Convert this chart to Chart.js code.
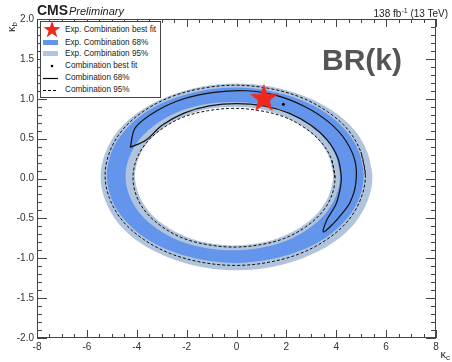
<!DOCTYPE html>
<html>
<head>
<meta charset="utf-8">
<script src="https://cdn.jsdelivr.net/npm/chart.js@4.4.1/dist/chart.umd.min.js"></script>
<style>
  body { margin: 0; background: #fff; font-family: "Liberation Sans", Arial, sans-serif; }
  #wrap { position: relative; width: 452px; height: 362px; overflow: hidden; }
  #wrap canvas { position: absolute; left: 0; top: 0; }
  .txt { position: absolute; white-space: nowrap; color: #222; line-height: 1; }
  #legend { position: absolute; left: 40px; top: 21px; width: 119px; height: 75px;
            border: 1px solid #444; background: #fff; }
  .lg { position: absolute; left: 65px; font-size: 8.2px; line-height: 10px; color: #222; white-space: nowrap; }
</style>
</head>
<body>
<div id="wrap">
  <canvas id="c" width="452" height="362"></canvas>
  <div class="txt" style="left:37px;top:3px;font-size:14px;font-weight:bold;">CMS</div>
  <div class="txt" style="left:69px;top:6px;font-size:11px;font-style:italic;">Preliminary</div>
  <div class="txt" style="right:4px;top:7px;font-size:10px;">138 fb<sup style="font-size:7px;vertical-align:4px;">-1</sup> (13 TeV)</div>
  <div class="txt" style="left:322px;top:45px;font-size:30px;font-weight:bold;color:#555;">BR(k)</div>
  <div class="txt" style="right:2px;top:349px;font-size:11px;">&kappa;<sub style="font-size:8px;vertical-align:-2px;">c</sub></div>
  <div class="txt" style="left:6px;top:32px;font-size:11px;transform:rotate(-90deg);transform-origin:left top;">&kappa;<sub style="font-size:8px;vertical-align:-2px;">b</sub></div>
  <div id="legend"></div>
  <svg style="position:absolute;left:0;top:0;" width="170" height="100">
    <polygon transform="translate(52,30)" fill="#f0281e"
      points="0,-9 2.1,-2.9 8.6,-2.8 3.4,1.1 5.3,7.3 0,3.6 -5.3,7.3 -3.4,1.1 -8.6,-2.8 -2.1,-2.9"/>
    <rect x="43" y="40" width="15" height="5" fill="#6495ed"/>
    <rect x="43" y="51" width="15" height="5" fill="#b0c4de"/>
    <circle cx="52" cy="66" r="1.3" fill="#000"/>
    <line x1="43" y1="78.5" x2="58" y2="78.5" stroke="#000" stroke-width="1.2"/>
    <line x1="43" y1="90.5" x2="58" y2="90.5" stroke="#000" stroke-width="1" stroke-dasharray="3,2"/>
  </svg>
  <div class="lg" style="top:25px;">Exp. Combination best fit</div>
  <div class="lg" style="top:37.5px;">Exp. Combination 68%</div>
  <div class="lg" style="top:49px;">Exp. Combination 95%</div>
  <div class="lg" style="top:61px;">Combination best fit</div>
  <div class="lg" style="top:73px;">Combination 68%</div>
  <div class="lg" style="top:85px;">Combination 95%</div>
</div>
<script>
// axis ticks
const xTicks = [-8, -6, -4, -2, 0, 2, 4, 6, 8];
const yTicks = [-2, -1.5, -1, -0.5, 0, 0.5, 1, 1.5, 2];

// best fit points (kappa_c, kappa_b)
const expBestFit = [1.1, 1.0];
const combBestFit = [1.88, 0.93];

// expected 95% band, outer and inner edge
const exp95Outer = [[5.45,0.02],[5.26,0.32],[4.72,0.61],[3.85,0.85],[2.73,1.03],[1.41,1.15],[0,1.19],[-1.41,1.15],[-2.73,1.03],[-3.85,0.85],[-4.72,0.61],[-5.26,0.32],[-5.45,0.02],[-5.26,-0.28],[-4.72,-0.57],[-3.85,-0.81],[-2.73,-0.99],[-1.41,-1.11],[0,-1.15],[1.41,-1.11],[2.73,-0.99],[3.85,-0.81],[4.72,-0.57],[5.26,-0.28]];
const exp95Inner = [[3.87,0.03],[3.73,0.25],[3.34,0.46],[2.71,0.64],[1.89,0.78],[0.93,0.87],[-0.10,0.90],[-1.13,0.87],[-2.09,0.78],[-2.91,0.64],[-3.54,0.46],[-3.93,0.25],[-4.07,0.03],[-3.93,-0.19],[-3.54,-0.40],[-2.91,-0.58],[-2.09,-0.72],[-1.13,-0.81],[-0.10,-0.84],[0.93,-0.81],[1.89,-0.72],[2.71,-0.58],[3.34,-0.40],[3.73,-0.19]];

// expected 68% band
const exp68Outer = [[5.10,0.04],[4.92,0.33],[4.41,0.59],[3.59,0.82],[2.53,0.99],[1.28,1.10],[-0.05,1.14],[-1.38,1.10],[-2.63,0.99],[-3.69,0.82],[-4.51,0.59],[-5.02,0.33],[-5.20,0.04],[-5.02,-0.25],[-4.51,-0.51],[-3.69,-0.74],[-2.63,-0.91],[-1.38,-1.02],[-0.05,-1.06],[1.28,-1.02],[2.53,-0.91],[3.59,-0.74],[4.41,-0.51],[4.92,-0.25]];
const exp68Inner = [[4.15,0.03],[4.00,0.27],[3.57,0.50],[2.89,0.69],[2.00,0.84],[0.96,0.93],[-0.15,0.96],[-1.26,0.93],[-2.30,0.84],[-3.19,0.69],[-3.87,0.50],[-4.30,0.27],[-4.45,0.03],[-4.30,-0.21],[-3.87,-0.44],[-3.19,-0.63],[-2.30,-0.78],[-1.26,-0.87],[-0.15,-0.90],[0.96,-0.87],[2.00,-0.78],[2.89,-0.63],[3.57,-0.44],[4.00,-0.21]];

// observed 95% contours (dashed)
const comb95Outer = [[5.17,0.04],[4.99,0.33],[4.47,0.61],[3.64,0.84],[2.56,1.02],[1.30,1.13],[-0.05,1.17],[-1.40,1.13],[-2.66,1.02],[-3.74,0.84],[-4.57,0.61],[-5.09,0.33],[-5.27,0.04],[-5.09,-0.25],[-4.57,-0.53],[-3.74,-0.76],[-2.66,-0.94],[-1.40,-1.05],[-0.05,-1.09],[1.30,-1.05],[2.56,-0.94],[3.64,-0.76],[4.47,-0.53],[4.99,-0.25]];
const comb95Inner = [[3.95,0.01],[3.81,0.24],[3.41,0.45],[2.76,0.63],[1.93,0.77],[0.95,0.85],[-0.10,0.88],[-1.15,0.85],[-2.13,0.77],[-2.96,0.63],[-3.61,0.45],[-4.01,0.24],[-4.15,0.01],[-4.01,-0.22],[-3.61,-0.43],[-2.96,-0.61],[-2.13,-0.75],[-1.15,-0.83],[-0.10,-0.86],[0.95,-0.83],[1.93,-0.75],[2.76,-0.61],[3.41,-0.43],[3.81,-0.22]];

// observed 68% contour (solid crescent, starts and ends at the left tip)
const comb68 = [[-4.26,0.39],[-4.05,0.64],[-3.19,0.85],[-2.11,1.00],[-0.90,1.08],[0.37,1.10],[1.62,1.04],[2.75,0.90],[3.69,0.71],[4.37,0.48],[4.76,0.21],[4.78,-0.07],[4.55,-0.30],[4.18,-0.46],[3.90,-0.56],[3.48,-0.67],[3.62,-0.52],[3.98,-0.33],[4.15,-0.14],[4.20,0.02],[4.06,0.26],[3.64,0.48],[2.97,0.67],[2.10,0.82],[1.09,0.91],[0,0.94],[-1.09,0.91],[-2.10,0.82],[-2.97,0.67],[-3.64,0.48],[-4.26,0.39]];

const darkBlue = "#6495ed";
const lightBlue = "#b0c4de";

function toPoints(list) {
  return list.map(([x, y]) => ({ x: x, y: y }));
}
/* closed loop: go once more through the first two points so the spline joins smoothly */
function loop(list) {
  return toPoints(list.concat([list[0], list[1]]));
}

function starImage(r, color) {
  const c = document.createElement("canvas");
  c.width = c.height = Math.ceil(2 * r + 2);
  const g = c.getContext("2d");
  g.translate(c.width / 2, c.height / 2);
  g.beginPath();
  for (let i = 0; i < 10; i++) {
    const rr = i % 2 ? r * 0.4 : r;
    const a = -Math.PI / 2 + (i * Math.PI) / 5;
    g.lineTo(rr * Math.cos(a), rr * Math.sin(a));
  }
  g.closePath();
  g.fillStyle = color;
  g.fill();
  return c;
}

function bandFill(list, color, order) {
  return {
    data: loop(list), showLine: true, fill: "shape", tension: 0.34,
    backgroundColor: color, borderColor: "rgba(0,0,0,0)", borderWidth: 0,
    pointRadius: 0, order: order,
  };
}
function contour(list, dash, closeIt, order) {
  return {
    data: closeIt ? loop(list) : toPoints(list), showLine: true, fill: false, tension: 0.34,
    borderColor: "#111", borderWidth: dash.length ? 1 : 1.2, borderDash: dash,
    pointRadius: 0, order: order,
  };
}

/* ROOT style frame with inward ticks on all four sides */
const frameTicks = {
  id: "frameTicks",
  afterDraw(chart) {
    const { ctx, chartArea: a, scales: { x, y } } = chart;
    ctx.save();
    ctx.strokeStyle = "#444";
    ctx.lineWidth = 1;
    ctx.strokeRect(a.left + 0.5, a.top + 0.5, a.width - 1, a.height - 1);
    ctx.beginPath();
    for (let i = 0; i <= 32; i++) {
      const v = -8 + i * 0.5;
      const px = Math.round(x.getPixelForValue(v)) + 0.5;
      const len = i % 4 === 0 ? 8 : 4;
      ctx.moveTo(px, a.bottom); ctx.lineTo(px, a.bottom - len);
      ctx.moveTo(px, a.top); ctx.lineTo(px, a.top + len);
    }
    for (let i = 0; i <= 40; i++) {
      const v = -2 + i * 0.1;
      const py = Math.round(y.getPixelForValue(v)) + 0.5;
      const len = i % 5 === 0 ? 10 : 5;
      ctx.moveTo(a.left, py); ctx.lineTo(a.left + len, py);
      ctx.moveTo(a.right, py); ctx.lineTo(a.right - len, py);
    }
    ctx.stroke();
    ctx.restore();
  },
};

const tickFont = { family: "'Liberation Sans', Arial, sans-serif", size: 10 };

new Chart(document.getElementById("c"), {
  type: "scatter",
  data: {
    datasets: [
      { data: toPoints([expBestFit]), pointStyle: starImage(15, "#f0281e"), pointRadius: 15, order: 0 },
      { data: toPoints([combBestFit]), pointStyle: "circle", pointRadius: 1.5, borderWidth: 0,
        backgroundColor: "#000", order: 1 },
      contour(comb68, [], false, 2),
      contour(comb95Outer, [3, 2], true, 3),
      contour(comb95Inner, [3, 2], true, 4),
      bandFill(exp95Inner, "#ffffff", 5),
      bandFill(exp68Inner, lightBlue, 6),
      bandFill(exp68Outer, darkBlue, 7),
      bandFill(exp95Outer, lightBlue, 8),
    ],
  },
  options: {
    responsive: false,
    animation: false,
    events: [],
    layout: { padding: { top: 19, right: 4, left: 0, bottom: 0 } },
    plugins: { legend: { display: false }, tooltip: { enabled: false } },
    scales: {
      x: {
        type: "linear", min: -8, max: 8,
        grid: { display: false, drawTicks: false },
        border: { display: false },
        ticks: { font: tickFont, color: "#333", padding: 3, maxRotation: 0, autoSkip: false,
                 callback: (v) => String(v) },
        afterBuildTicks: (s) => { s.ticks = xTicks.map((v) => ({ value: v })); },
        afterFit: (s) => { s.height = 24; s.paddingLeft = 0; s.paddingRight = 0; },
      },
      y: {
        type: "linear", min: -2, max: 2,
        grid: { display: false, drawTicks: false },
        border: { display: false },
        ticks: { font: tickFont, color: "#333", padding: 3, autoSkip: false,
                 callback: (v) => Number(v).toFixed(1) },
        afterBuildTicks: (s) => { s.ticks = yTicks.map((v) => ({ value: v })); },
        afterFit: (s) => { s.width = 37; s.paddingTop = 0; s.paddingBottom = 0; },
      },
    },
  },
  plugins: [frameTicks],
});
</script>
</body>
</html>
